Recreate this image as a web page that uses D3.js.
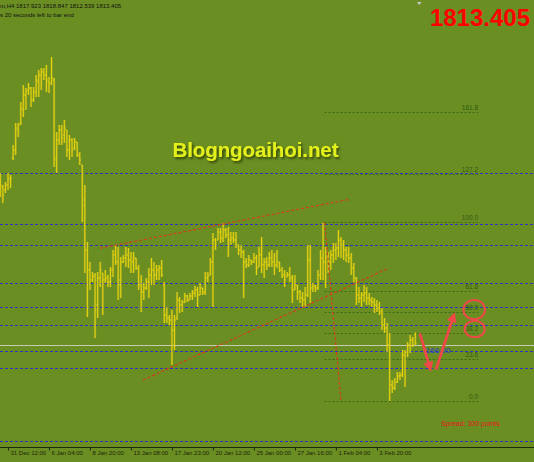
<!DOCTYPE html>
<html>
<head>
<meta charset="utf-8">
<script src="https://cdn.jsdelivr.net/npm/d3@7/dist/d3.min.js"></script>
<style>
  body { margin: 0; background: #6b8e23; }
  svg { display: block; }
  text { font-family: "Liberation Sans", Arial, sans-serif; }
</style>
</head>
<body>
<div id="chart-area"></div>
<script>
// XAUUSD H4 bars
var barOpen = [
  1890, 1891.5, 1890, 1892.5, 1895,
  1906, 1910, 1920, 1923.5, 1930,
  1937.5, 1940, 1941, 1935, 1939,
  1944, 1947.5, 1949, 1947.5, 1944,
  1943.5, 1945, 1905, 1915, 1920,
  1917.5, 1920, 1910, 1915, 1911,
  1914, 1907.5, 1902.5, 1885, 1860,
  1850, 1845, 1847, 1832.5, 1846,
  1848.5, 1845, 1846, 1844, 1850,
  1857.5, 1854, 1842.5, 1854, 1856,
  1857.5, 1855, 1854, 1856, 1851,
  1842.5, 1839, 1841, 1844, 1847.5,
  1850, 1847.5, 1850, 1851, 1842.5,
  1827.5, 1826, 1825, 1820, 1826,
  1835, 1832.5, 1834, 1837, 1835,
  1837, 1838.5, 1840, 1837.5, 1841,
  1839, 1846, 1847.5, 1854, 1865,
  1865, 1869, 1866, 1870, 1867.5,
  1865, 1866, 1865, 1862.5, 1860,
  1859, 1854, 1852.5, 1855, 1854,
  1856, 1851.5, 1857.5, 1852.5, 1854,
  1852.5, 1856, 1854, 1852.5, 1854,
  1850, 1847.5, 1846.5, 1847.5, 1846,
  1840, 1842.5, 1839, 1836, 1835,
  1837.5, 1855, 1841, 1842, 1841,
  1847.5, 1856, 1854, 1856, 1854,
  1857.5, 1860, 1861, 1865, 1862.5,
  1860, 1857.5, 1856, 1851, 1846,
  1837.5, 1836, 1837.5, 1838.5, 1836,
  1835, 1834, 1832.5, 1831, 1829,
  1822.5, 1821, 1812.5, 1792.5, 1791,
  1794, 1797, 1797.5, 1807.5, 1809,
  1812.5, 1815, 1817.9
];
var barHigh = [
  1898.5, 1892.5, 1894, 1898.5, 1897.5,
  1912.5, 1923.5, 1923.5, 1934, 1942.5,
  1941, 1943.5, 1941.5, 1941.5, 1947.5,
  1950, 1951, 1951, 1952.5, 1946.5,
  1956.5, 1946, 1919, 1922.5, 1922.5,
  1925, 1920, 1917.5, 1916, 1916,
  1914, 1909, 1902.5, 1892.5, 1864,
  1854, 1849, 1848.5, 1849, 1854,
  1848.5, 1850, 1847.5, 1851.5, 1860,
  1862.5, 1861.5, 1856.5, 1857.5, 1861.5,
  1861, 1859, 1859, 1856, 1852.5,
  1847.5, 1843.5, 1846, 1851, 1856,
  1854, 1852.5, 1852.5, 1855, 1844,
  1831.5, 1827.5, 1830, 1827.5, 1839,
  1836.5, 1835, 1838.5, 1837.5, 1838.5,
  1840, 1842, 1841.5, 1843.5, 1841,
  1849, 1849, 1856, 1868.5, 1866,
  1871, 1871, 1873.5, 1871, 1871.5,
  1869, 1869, 1869, 1862.5, 1862.5,
  1860, 1856, 1857.5, 1855, 1858.5,
  1857.5, 1861.5, 1866.5, 1856, 1856.5,
  1859, 1860, 1858.5, 1860, 1854,
  1851.5, 1850, 1849, 1851.5, 1847.5,
  1847.5, 1842.5, 1840, 1839, 1841.5,
  1862.5, 1862.5, 1843.5, 1842.5, 1850,
  1860, 1873.5, 1861.5, 1859, 1860,
  1863.5, 1863.5, 1870, 1866.5, 1865,
  1861.5, 1861.5, 1858.5, 1853.5, 1846.5,
  1841.5, 1839, 1842.5, 1841.5, 1838.5,
  1836.5, 1836, 1835, 1834, 1831,
  1826, 1823.5, 1818.5, 1795, 1796,
  1799, 1799, 1810, 1810, 1814,
  1817.5, 1816.5, 1818.8
];
var barLow = [
  1886.5, 1883.5, 1888.5, 1890, 1891,
  1905, 1907.5, 1916.5, 1922.5, 1926.5,
  1930, 1937.5, 1931.5, 1934, 1936.5,
  1936.5, 1940, 1945, 1939, 1938.5,
  1942.5, 1901.5, 1898.5, 1912.5, 1912.5,
  1913.5, 1906.5, 1905, 1906.5, 1910,
  1906.5, 1902.5, 1874, 1848.5, 1826.5,
  1840, 1844, 1816, 1826, 1841.5,
  1827.5, 1843.5, 1841.5, 1841.5, 1846.5,
  1852.5, 1835, 1836, 1853.5, 1851.5,
  1851, 1848.5, 1848.5, 1850, 1840,
  1829, 1835, 1840, 1836, 1842.5,
  1842.5, 1845, 1845, 1846.5, 1823.5,
  1823.5, 1822.5, 1802.5, 1810, 1825,
  1828.5, 1829, 1833.5, 1834, 1835,
  1835, 1836.5, 1831.5, 1837.5, 1837.5,
  1837.5, 1844, 1847.5, 1831.5, 1860,
  1865, 1863.5, 1864, 1866, 1856.5,
  1862.5, 1863.5, 1861, 1857.5, 1856,
  1836, 1851, 1851.5, 1852.5, 1853.5,
  1847.5, 1851.5, 1848.5, 1846, 1850,
  1851.5, 1851.5, 1847.5, 1851, 1849,
  1846, 1841.5, 1846.5, 1844, 1833.5,
  1840, 1835, 1833.5, 1831.5, 1831.5,
  1836.5, 1833.5, 1839, 1839, 1840,
  1845, 1845, 1841, 1848.5, 1850,
  1853.5, 1855, 1856.5, 1856, 1855,
  1854, 1853.5, 1847.5, 1844, 1832.5,
  1833.5, 1831.5, 1834, 1832.5, 1832.5,
  1831.5, 1828.5, 1829, 1827.5, 1820,
  1818.5, 1809, 1784.5, 1788.5, 1790,
  1793.5, 1795, 1796.5, 1791.5, 1806.5,
  1808.5, 1811.5, 1812.5
];
var barClose = [
  1892.5, 1887.5, 1892.5, 1896, 1896,
  1910, 1921, 1922.5, 1931, 1937.5,
  1939, 1941, 1935, 1939, 1945,
  1947.5, 1949, 1947.5, 1945, 1942.5,
  1946, 1906, 1915, 1920, 1916,
  1921, 1910, 1915, 1910, 1914,
  1907.5, 1905, 1882.5, 1860, 1850,
  1845, 1847, 1830, 1846, 1850,
  1845, 1846, 1844, 1850, 1857.5,
  1854, 1845, 1854, 1856, 1857.5,
  1855, 1854, 1856, 1851, 1842.5,
  1839, 1841, 1844, 1847.5, 1850,
  1847.5, 1850, 1851, 1847.5, 1827.5,
  1826, 1825, 1820, 1825, 1835,
  1832.5, 1834, 1837, 1835, 1837,
  1838.5, 1840, 1837.5, 1841, 1839,
  1846, 1847, 1854, 1865, 1862.5,
  1869, 1866, 1870, 1867.5, 1865,
  1866, 1865, 1862.5, 1860, 1859,
  1854, 1852.5, 1855, 1854, 1856,
  1851, 1857.5, 1852.5, 1854, 1852.5,
  1856, 1854, 1852.5, 1854, 1850,
  1847.5, 1845, 1847.5, 1846, 1840,
  1842.5, 1839, 1836, 1835, 1837.5,
  1855, 1841, 1842, 1841, 1847.5,
  1856, 1854, 1856, 1854, 1857.5,
  1860, 1861, 1865, 1862.5, 1860,
  1857.5, 1856, 1851, 1846, 1837.5,
  1836, 1837.5, 1838.5, 1836, 1835,
  1834, 1832.5, 1831, 1829, 1822.5,
  1821, 1812.5, 1792.5, 1791, 1794,
  1797, 1797.5, 1807.5, 1809, 1812.5,
  1815, 1812.5, 1813.4
];

// time axis: one label every 16 bars
var tickBars = [3, 19, 35, 51, 67, 83, 99, 115, 131, 147];
var tickLabels = ["31 Dec 12:00", "6 Jan 04:00", "8 Jan 20:00", "13 Jan 08:00", "17 Jan 23:00",
                  "20 Jan 12:00", "25 Jan 00:00", "27 Jan 16:00", "1 Feb 04:00", "3 Feb 20:00"];

// blue horizontal levels drawn on the chart
var hLevels = [1898.5, 1873, 1862.5, 1843.5, 1831.5, 1822.5, 1809.5, 1801, 1764.5];
var bidPrice = 1812.4;

// fibonacci retracement (0 = low, 100 = high)
var fibLow = 1784.5, fibHigh = 1873.8;
var fibLevels = [0, 23.6, 38.2, 50, 61.8, 100, 127.2, 161.8];
var fibLabels = ["0.0", "23.6", "38.2", "50.0", "61.8", "100.0", "127.2", "161.8"];
var fibBars = [126.6, 133];
var fibEndBar = 186.5;

// red dashed trend lines [bar, price] -> [bar, price]
var trendLines = [
  [[38.9, 1860.9], [136.5, 1885.4]],
  [[55.7, 1795], [150.9, 1850.5]]
];

// hand drawn arrows and circles
var arrows = [
  [[163.8, 1818.3], [167.6, 1801.5]],
  [[170.1, 1800.3], [176.8, 1826.5]]
];
var circles = [[185, 1830.2, 10.8, 9.7], [185.2, 1820.5, 10, 8.3]];

var chartWidth = 534, chartHeight = 462;

var svg = d3.select("#chart-area").append("svg")
    .attr("width", chartWidth).attr("height", chartHeight);

var defs = svg.append("defs");
defs.append("marker").attr("id", "head").attr("viewBox", "0 0 10 10")
    .attr("refX", 5).attr("refY", 5).attr("markerWidth", 3.6).attr("markerHeight", 3.6)
    .attr("orient", "auto").append("path").attr("d", "M0,0 L10,5 L0,10 Z").attr("fill", "#ee4848");
var shadow = defs.append("filter").attr("id", "shadow").attr("x", "-10%").attr("y", "-30%")
    .attr("width", "120%").attr("height", "160%");
shadow.append("feDropShadow").attr("dx", 1.5).attr("dy", 2).attr("stdDeviation", 1)
    .attr("flood-color", "#2a3a06").attr("flood-opacity", 0.85);

svg.append("rect").attr("width", chartWidth).attr("height", chartHeight).attr("fill", "#6b8e23");

var x = d3.scaleLinear().domain([0, barClose.length - 1]).range([0.3, 415.3]);
var y = d3.scaleLinear().domain([1760, 1985]).range([450, 0]);

// blue levels
svg.append("g").selectAll("line").data(hLevels).enter().append("line")
    .attr("x1", 0).attr("x2", chartWidth)
    .attr("y1", (d) => { return Math.round(y(d)) + 0.5; })
    .attr("y2", (d) => { return Math.round(y(d)) + 0.5; })
    .attr("stroke", "#2c34c0").attr("stroke-width", 1).attr("stroke-dasharray", "3,2");

// fibo
var fib = svg.append("g");
fib.selectAll("line").data(fibLevels).enter().append("line")
    .attr("x1", x(fibBars[0])).attr("x2", x(fibEndBar))
    .attr("y1", (d) => { return Math.round(y(fibLow + (fibHigh - fibLow) * d / 100)) + 0.5; })
    .attr("y2", (d) => { return Math.round(y(fibLow + (fibHigh - fibLow) * d / 100)) + 0.5; })
    .attr("stroke", "#3b6a17").attr("stroke-width", 1).attr("stroke-dasharray", "2,2");
fib.selectAll("text").data(fibLevels).enter().append("text")
    .attr("x", x(fibEndBar)).attr("y", (d) => { return y(fibLow + (fibHigh - fibLow) * d / 100) - 2; })
    .attr("text-anchor", "end").attr("font-size", "6.5px").attr("fill", "#2f5a14")
    .text((d, i) => { return fibLabels[i]; });

// bid line
svg.append("line").attr("x1", 0).attr("x2", chartWidth)
    .attr("y1", Math.round(y(bidPrice)) + 0.5).attr("y2", Math.round(y(bidPrice)) + 0.5)
    .attr("stroke", "#c9ccb4").attr("stroke-width", 1);

// OHLC bars, a soft halo first then the bar itself
function barPath(d, i) {
    var bx = x(i);
    return "M" + bx + "," + y(barHigh[i]) + "V" + y(barLow[i]) +
           "M" + (bx - 1.3) + "," + y(barOpen[i]) + "H" + bx +
           "M" + bx + "," + y(d) + "H" + (bx + 1.3);
}
var bars = svg.append("g");
bars.selectAll("path.halo").data(barClose).enter().append("path").attr("class", "halo")
    .attr("d", barPath).attr("fill", "none").attr("stroke", "#c9bc22")
    .attr("stroke-width", 2.4).attr("stroke-opacity", 0.35);
bars.selectAll("path.bar").data(barClose).enter().append("path").attr("class", "bar")
    .attr("d", barPath).attr("fill", "none").attr("stroke", "#ecd70c")
    .attr("stroke-width", 1.1).attr("stroke-opacity", 0.9);

// trend lines
svg.append("g").selectAll("line").data(trendLines).enter().append("line")
    .attr("x1", (d) => { return x(d[0][0]); }).attr("y1", (d) => { return y(d[0][1]); })
    .attr("x2", (d) => { return x(d[1][0]); }).attr("y2", (d) => { return y(d[1][1]); })
    .attr("stroke", "#d2401a").attr("stroke-width", 1.2).attr("stroke-dasharray", "3,2");
svg.append("line")
    .attr("x1", x(fibBars[0])).attr("y1", y(fibHigh)).attr("x2", x(fibBars[1])).attr("y2", y(fibLow))
    .attr("stroke", "#d2401a").attr("stroke-width", 1.2).attr("stroke-dasharray", "3,2");

// x axis
svg.append("line").attr("x1", 0).attr("x2", chartWidth).attr("y1", 447.5).attr("y2", 447.5)
    .attr("stroke", "#1e2a08").attr("stroke-width", 1);
var xAxis = d3.axisBottom(x).tickValues(tickBars).tickSize(3)
    .tickFormat((d, i) => { return tickLabels[i]; });
var xAxisGroup = svg.append("g").attr("transform", "translate(0, 447.5)").call(xAxis);
xAxisGroup.select(".domain").remove();
xAxisGroup.selectAll("line").attr("stroke", "#1e2a08");
xAxisGroup.selectAll("text").attr("text-anchor", "start").attr("x", 2).attr("y", 3)
    .attr("font-family", "Liberation Sans, Arial, sans-serif").attr("font-size", "6px").attr("fill", "#1c2408");

// watermark
svg.append("text").attr("x", 172.5).attr("y", 156.7).attr("font-size", "20.5px").attr("font-weight", "bold")
    .attr("fill", "#e4f01c").attr("filter", "url(#shadow)").attr("textLength", 166)
    .text("Blogngoaihoi.net");

// bid label, price label
svg.append("text").attr("x", 426).attr("y", 352.5).attr("font-size", "8px").attr("fill", "#2c3cc8")
    .text("166.20");
svg.append("text").attr("x", 530).attr("y", 26).attr("text-anchor", "end").attr("font-size", "24px")
    .attr("font-weight", "bold").attr("fill", "#ff0000").text("1813.405");

// header
svg.append("text").attr("x", 0).attr("y", 8.3).attr("font-size", "6px").attr("fill", "#111")
    .text("m,H4  1817.923 1818.847 1812.539 1813.405");
svg.append("text").attr("x", 0).attr("y", 17).attr("font-size", "6px").attr("fill", "#111")
    .text("s 20 seconds left to bar end");
svg.append("path").attr("d", "M417,2 L421.5,2 L419.2,5 Z").attr("fill", "#c8c8c8");

// spread
svg.append("text").attr("x", 441).attr("y", 425.5).attr("font-size", "7px").attr("fill", "#e01818")
    .text("Spread: 300 points");

// annotations
svg.append("g").selectAll("line").data(arrows).enter().append("line")
    .attr("x1", (d) => { return x(d[0][0]); }).attr("y1", (d) => { return y(d[0][1]); })
    .attr("x2", (d) => { return x(d[1][0]); }).attr("y2", (d) => { return y(d[1][1]); })
    .attr("stroke", "#ee4848").attr("stroke-width", 2.8).attr("marker-end", "url(#head)");
svg.append("g").selectAll("ellipse").data(circles).enter().append("ellipse")
    .attr("cx", (d) => { return x(d[0]); }).attr("cy", (d) => { return y(d[1]); })
    .attr("rx", (d) => { return d[2]; }).attr("ry", (d) => { return d[3]; })
    .attr("fill", "none").attr("stroke", "#ee4848").attr("stroke-width", 2);
</script>
</body>
</html>
